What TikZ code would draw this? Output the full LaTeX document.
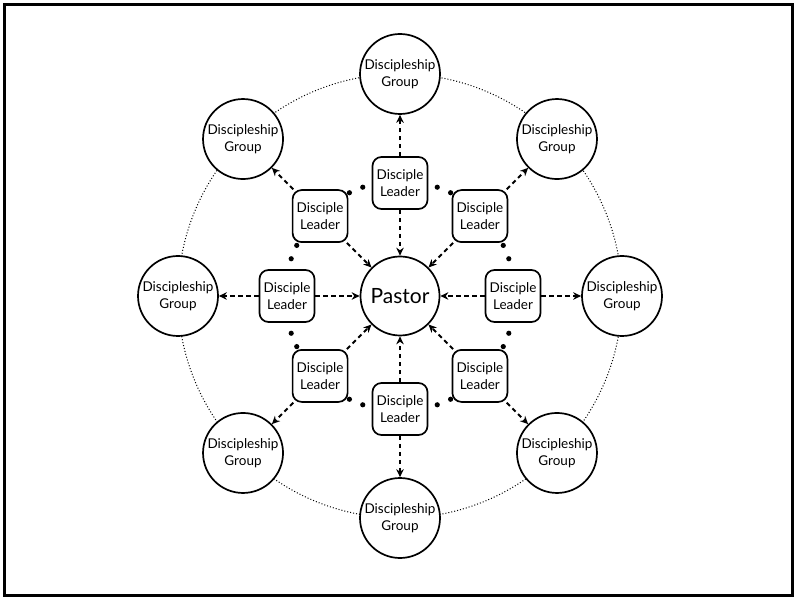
\documentclass[tikz,border=0pt]{standalone}
\usepackage{fontspec}
\setmainfont{Lato}
\usetikzlibrary{arrows.meta,positioning,calc}

\begin{document}
\begin{tikzpicture}[
    x=1pt, y=1pt,
    font=\fontsize{13.5}{16.5}\selectfont,
    group/.style={draw, circle, line width=1.7pt, fill=white, align=center, minimum size=80pt, inner sep=0pt},
    leader/.style={draw, rounded corners=9pt, line width=1.7pt, fill=white, align=center, minimum width=55pt, minimum height=52pt, inner sep=0pt},
    pastor/.style={draw, circle, line width=1.7pt, fill=white, minimum size=79pt, inner sep=0pt, font=\fontsize{21}{25}\selectfont},
    link/.style={-{Stealth[length=8pt,width=7.5pt]}, line width=2pt, dash pattern=on 4.5pt off 3.5pt},
    orbit/.style={dotted, line width=1pt}
  ]
    \useasboundingbox (0,0) rectangle (794,597);
    % Frame
    \draw[line width=3.2pt] (4.3,592.7) rectangle (793,1.5);

    % Centre and outer ring
    \coordinate (c) at (400,301);
    \draw[orbit] (c) circle[radius=222];

    \node[pastor] (p) at (c) {Pastor};

    % Leaders, groups and links
    \foreach \i/\a in {1/90,2/45,3/0,4/-45,5/-90,6/-135,7/180,8/135} {
      \node[leader] (l\i) at ($(c)+(\a:113)$) {Disciple\\Leader};
      \node[group] (g\i) at ($(c)+(\a:222)$) {Discipleship\\Group};
      \draw[link] (l\i) -- (p);
      \draw[link] (l\i) -- (g\i);
      \fill ($(c)+(\a+18.9:115)$) circle[radius=2.6];
      \fill ($(c)+(\a+26.1:115)$) circle[radius=2.6];
    }
  \end{tikzpicture}
\end{document}
